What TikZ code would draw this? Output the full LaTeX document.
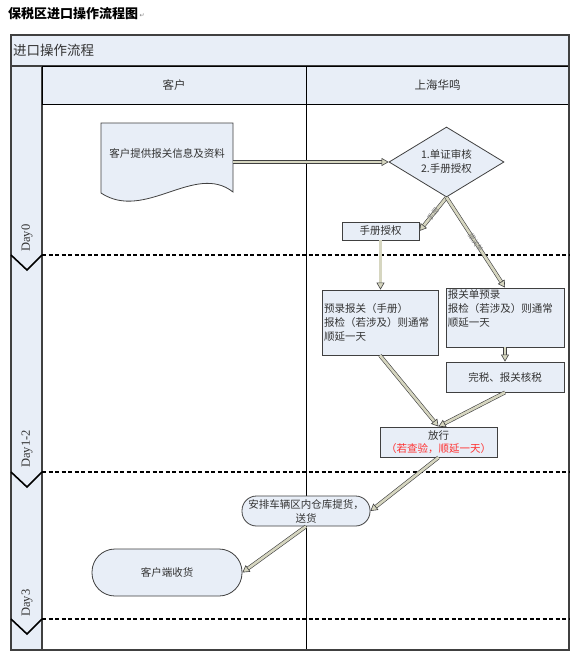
\documentclass[tikz,border=0pt]{standalone}
\usepackage{fontspec}
\setmainfont{Noto Sans CJK SC}
\newfontfamily\latf{Liberation Serif}
\newfontfamily\djf{DejaVu Sans}
\usetikzlibrary{shapes.geometric,arrows.meta,calc}
\definecolor{boxfill}{HTML}{E8EEF7}
\definecolor{edge}{HTML}{404040}
\definecolor{txt}{HTML}{333333}
\definecolor{conn}{HTML}{D6D6C0}
\definecolor{redtxt}{HTML}{FF3030}
\begin{document}
\begin{tikzpicture}[x=1pt,y=-1pt,
  box/.style={draw=edge, fill=boxfill, line width=0.8pt, inner sep=0pt, text=txt,
    font=\fontsize{10.5}{14}\selectfont, align=center},
  hdr/.style={draw=black, fill=boxfill, line width=0.8pt, inner sep=0pt, text=txt},
  plain/.style={inner sep=0pt, text=txt, font=\fontsize{10.5}{14}\selectfont},
  lanediv/.style={draw=black, line width=1.6pt, dash pattern=on 4pt off 2.5pt},
  chev/.style={draw=black, line width=1.6pt},
  daylbl/.style={rotate=90, anchor=west, inner sep=0pt, text=txt, font=\latf\fontsize{12.5}{13}\selectfont},
  flow/.style={draw=edge, line width=0.6pt, double=conn, double distance=2.6pt,
    -{Triangle[length=7pt,width=8pt,fill=conn]}},
  lbl/.style={sloped, inner sep=0.5pt, text=gray, font=\fontsize{7}{8}\selectfont}
]
\useasboundingbox (0,0) rectangle (574,659);
\fill[white] (0,0) rectangle (574,659);

% title
\node[anchor=west, inner sep=0pt, font=\bfseries\fontsize{13}{15}\selectfont] (title) at (8,14) {保税区进口操作流程图};
\node[anchor=west, inner sep=0pt, text=gray, font=\djf\fontsize{6}{7}\selectfont] (pmark) at ($(title.east)+(1,2)$) {↵};

% frame
\node[hdr, draw=edge, line width=1.2pt, minimum width=558pt, minimum height=31pt] (bar) at (290,50.5) {};
\node[anchor=west, inner sep=0pt, text=txt, font=\fontsize{13.5}{15}\selectfont] (bartxt) at (13,50.5) {进口操作流程};
\node[hdr, draw=edge, line width=1.2pt, minimum width=31pt, minimum height=584pt] (daycol) at (26.5,358) {};
\node[hdr, minimum width=264pt, minimum height=38pt, font=\fontsize{11.5}{14}\selectfont] (hc1) at (174,85) {客户};
\node[hdr, minimum width=263pt, minimum height=38pt, font=\fontsize{11.5}{14}\selectfont] (hc2) at (437.5,85) {上海华鸣};
\draw[black, line width=0.7pt] (306,104) -- (306,650);
\draw[edge, line width=1.5pt] (11,35) rectangle (569,650);

% day separators
\foreach \yy in {255,472,619}{
  \draw[lanediv] (42,\yy) -- (569,\yy);
  \draw[chev] (11,\yy) -- (27,\yy+15) -- (42,\yy);
}
\node[daylbl] (day0) at (27,252) {Day0};
\node[daylbl] (day12) at (27,468) {Day1-2};
\node[daylbl] (day3) at (27,617) {Day3};

% document shape
\node[inner sep=0pt, minimum width=132pt, minimum height=70pt] (doc) at (167,158) {};
\draw[edge, fill=boxfill, line width=0.8pt] (101,123) -- (233,123) -- (233,192)
  .. controls (195,162) and (145,222) .. (101,193) -- cycle;
\node[plain] (doctxt) at (167,153) {客户提供报关信息及资料};

% diamond
\node[box, shape=diamond, aspect=1.64, minimum width=115pt, minimum height=70pt] (d) at (446.5,162) {1.单证审核\\2.手册授权};

% boxes
\node[box, minimum width=77pt, minimum height=18pt] (sc) at (380.5,231) {手册授权};
\node[box, minimum width=116pt, minimum height=65pt, text width=112pt, align=left] (lb) at (380,322.5) {预录报关（手册）\\报检（若涉及）则通常\\顺延一天};
\node[box, minimum width=118pt, minimum height=59pt] (rb) at (505,317.5) {};
\node[plain, anchor=north west, align=left] (rbtxt) at ($(rb.north west)+(2,2)$) {报关单预录\\报检（若涉及）则通常\\顺延一天};
\node[box, minimum width=118pt, minimum height=30pt] (wh) at (505,377) {完税、报关核税};
\node[box, minimum width=117pt, minimum height=30pt, font=\fontsize{10.5}{13}\selectfont] (fx) at (438.5,442) {放行\\\textcolor{redtxt}{（若查验，顺延一天）}};
\node[box, minimum width=128pt, minimum height=30pt, rounded corners=14.5pt] (ab) at (306,511) {安排车辆区内仓库提货，\\送货};
\node[box, minimum width=150pt, minimum height=47pt, rounded corners=23pt] (kh) at (167,572.5) {客户端收货};

% connectors
\draw[flow] (doc.east |- d.west) -- (d.west);
\draw[flow] (d.south) -- node[lbl] {手册} (sc.east);
\draw[flow] (d.south) -- node[lbl] {报关单} (rb.north);
\draw[flow] (sc.south) -- (sc.south |- lb.north);
\draw[flow] (rb.south) -- (wh.north);
\draw[flow] (lb.south) -- (fx.north);
\draw[flow] (wh.south) -- (fx.north);
\draw[flow] (fx.south) -- (ab.east);
\draw[flow] (ab.south) -- (kh.east);
\end{tikzpicture}
\end{document}
